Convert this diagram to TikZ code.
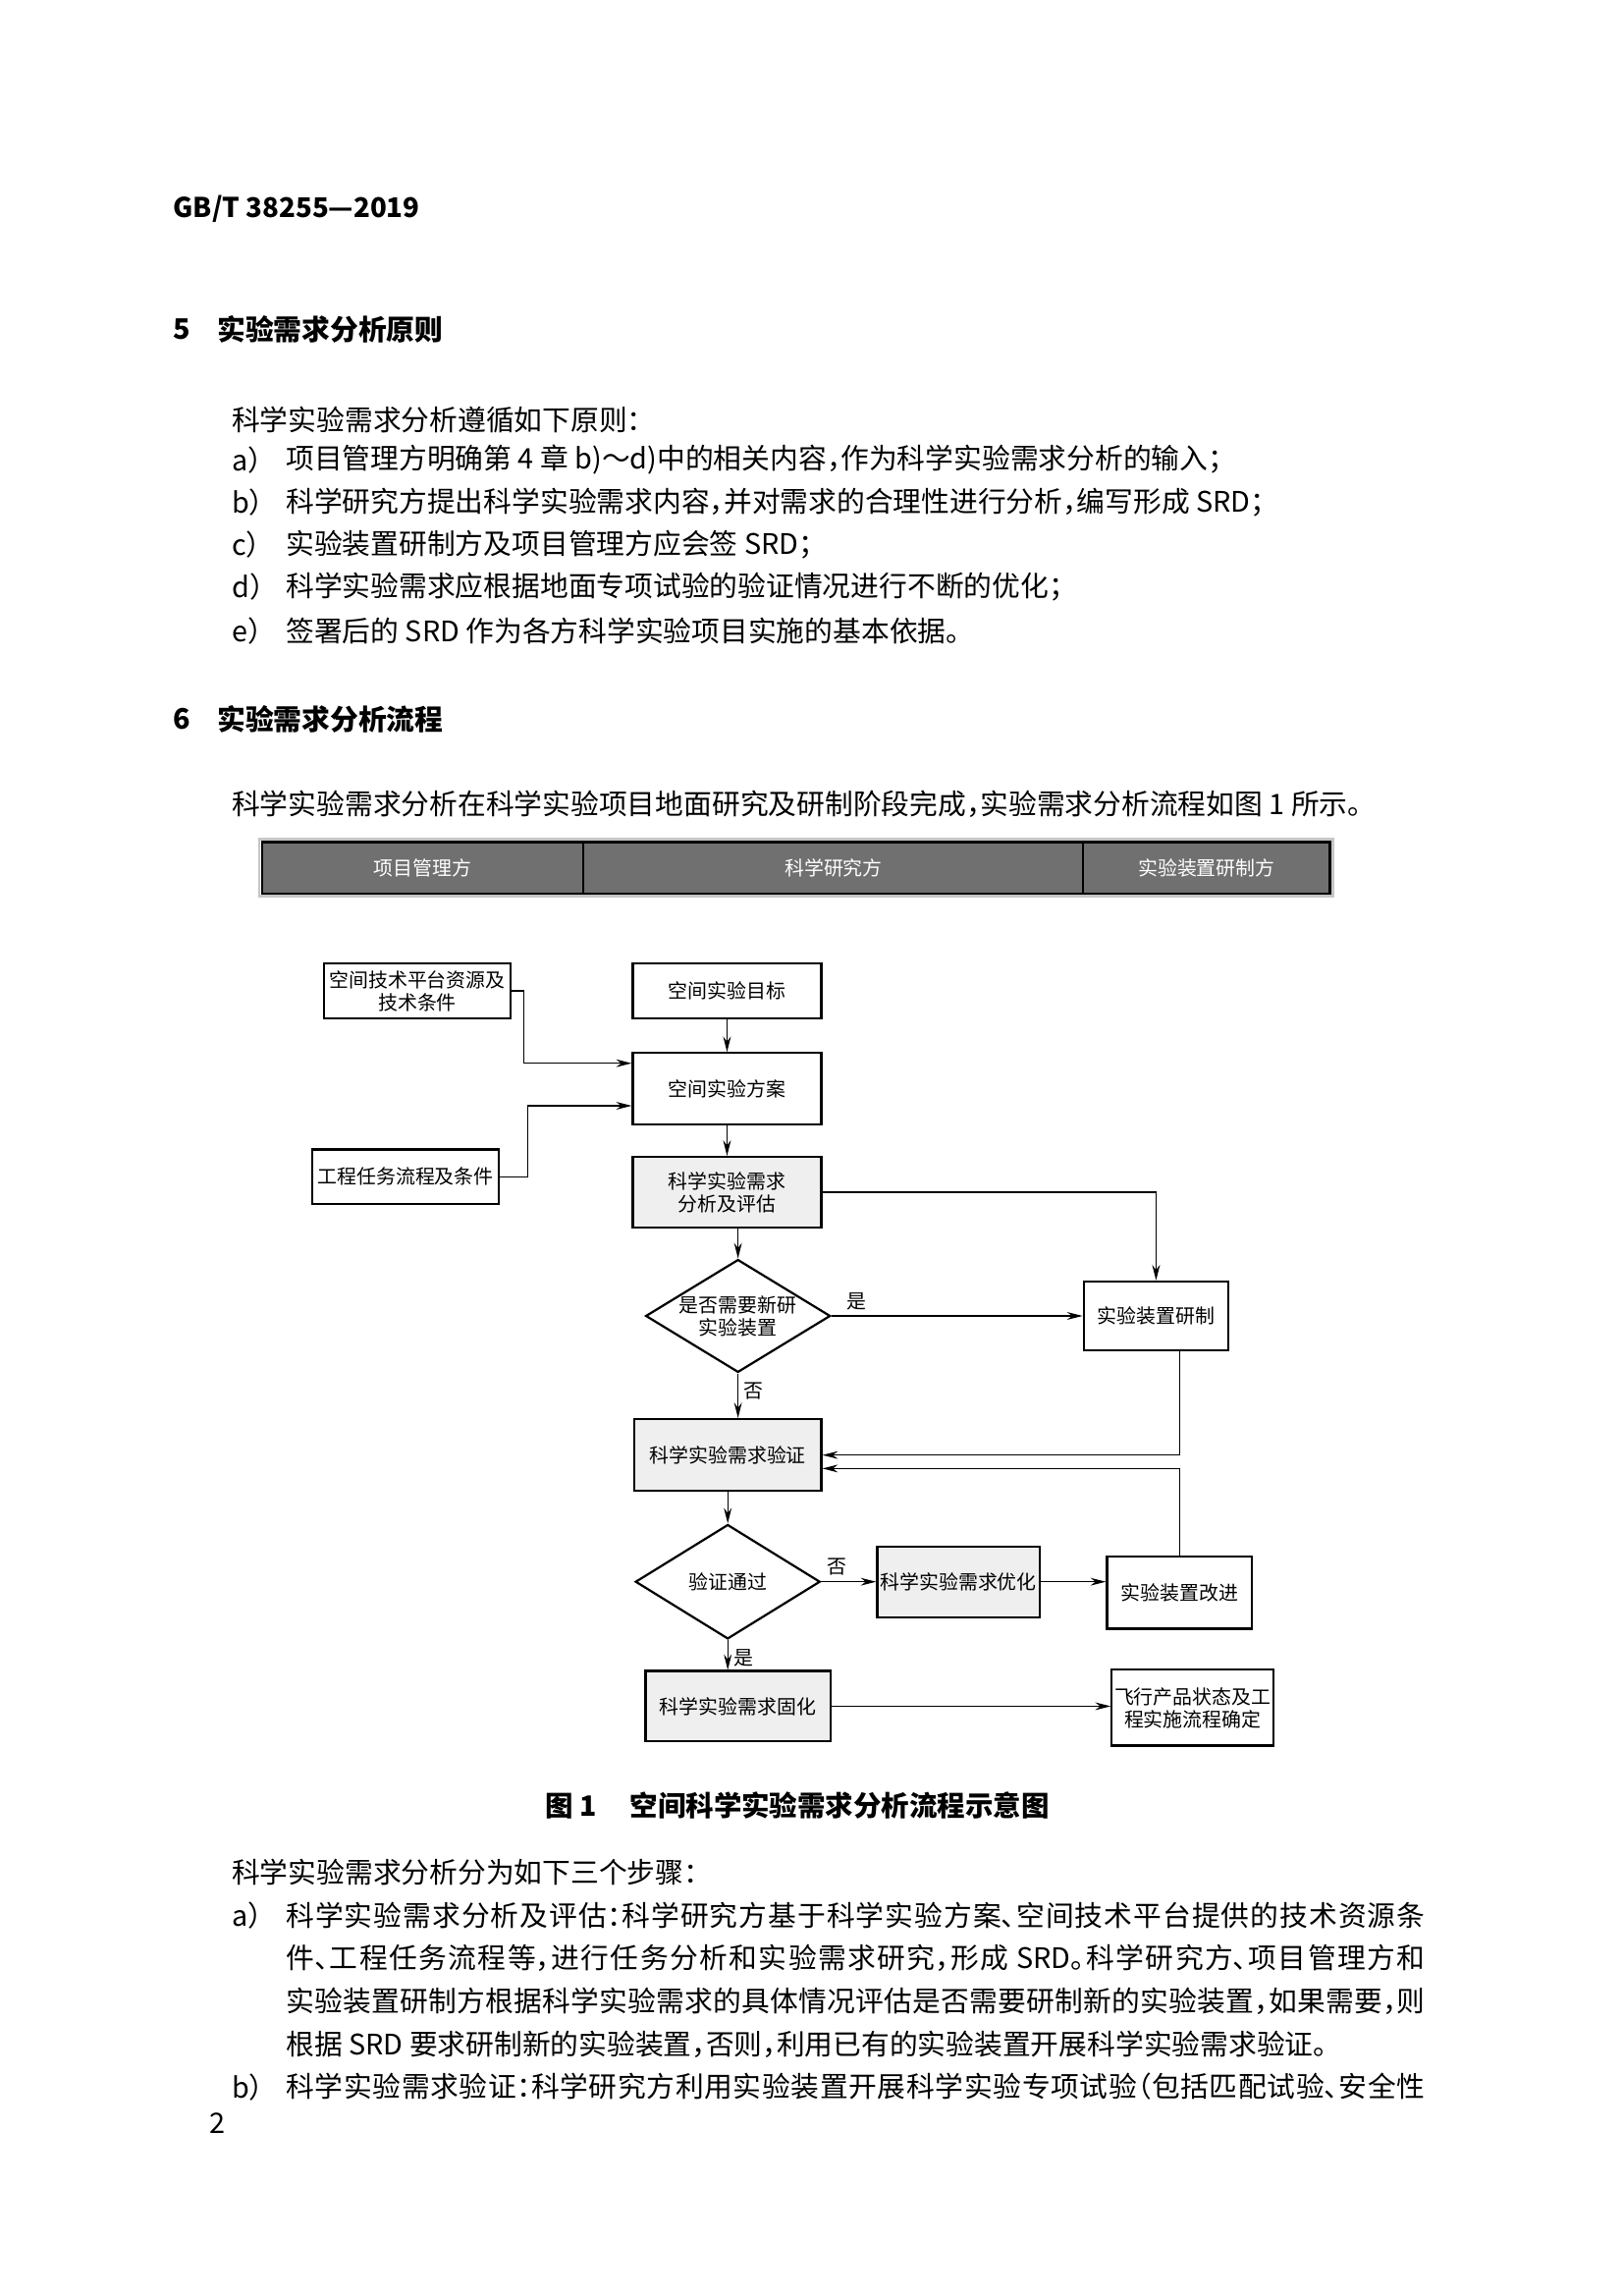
\documentclass[tikz,border=0pt]{standalone}
\usepackage{fontspec}
\setmainfont{Noto Sans CJK SC}[RawFeature=+halt]
\XeTeXlinebreaklocale "zh"
\XeTeXlinebreakskip=0pt plus 1pt
\usetikzlibrary{shapes.geometric, arrows.meta}
\definecolor{bargray}{RGB}{112,112,112}
\definecolor{boxgray}{RGB}{239,239,239}
\tikzstyle{box} = [rectangle, draw=black, line width=0.8pt, align=center, inner sep=1pt, font=\fontsize{7.2pt}{8.3pt}\selectfont]
\tikzstyle{greybox} = [box, fill=boxgray]
\tikzstyle{decision} = [diamond, aspect=1.65, draw=black, line width=0.8pt, align=center, inner sep=0pt, font=\fontsize{7.2pt}{8.3pt}\selectfont]
\tikzstyle{party} = [rectangle, draw=black, line width=0.8pt, fill=bargray, text=white, minimum height=6.65mm, font=\fontsize{7.2pt}{8.3pt}\selectfont]
\tikzstyle{arrow} = [line width=0.45pt, -{Stealth[length=2mm,width=1mm]}]
\tikzstyle{tag} = [font=\fontsize{7.2pt}{8.3pt}\selectfont, inner sep=2pt]
\tikzstyle{body} = [anchor=west, inner sep=0pt, font=\fontsize{10.4pt}{15.8pt}\selectfont]
\tikzstyle{heading} = [body, font=\fontsize{10.4pt}{15.8pt}\selectfont\bfseries]

\begin{document}
\begin{tikzpicture}[x=0.18949mm, y=-0.18949mm]
    \fill [white] (0,0) rectangle (1108.2,1567.7);
    \useasboundingbox (0,0) rectangle (1108.2,1567.7);

    % page text
    \node (code) [heading, font=\fontsize{10pt}{15.8pt}\selectfont\bfseries] at (118,143) {GB/T 38255—2019};
    \node (num5) [heading] at (118,225) {5};
    \node (sec5) [heading] at (148,225) {实验需求分析原则};
    \node (p0) [body] at (158,287) {科学实验需求分析遵循如下原则：};
    \node (ia) [body] at (158,314) {a）};
    \node (ta) [body] at (195,314) {项目管理方明确第 4 章 b)～d)中的相关内容，作为科学实验需求分析的输入；};
    \node (ib) [body] at (158,343) {b）};
    \node (tb) [body] at (195,343) {科学研究方提出科学实验需求内容，并对需求的合理性进行分析，编写形成 SRD；};
    \node (ic) [body] at (158,372) {c）};
    \node (tc) [body] at (195,372) {实验装置研制方及项目管理方应会签 SRD；};
    \node (id) [body] at (158,401) {d）};
    \node (td) [body] at (195,401) {科学实验需求应根据地面专项试验的验证情况进行不断的优化；};
    \node (ie) [body] at (158,431) {e）};
    \node (te) [body] at (195,431) {签署后的 SRD 作为各方科学实验项目实施的基本依据。};
    \node (num6) [heading] at (118,491) {6};
    \node (sec6) [heading] at (148,491) {实验需求分析流程};
    \node (p1) [body] at (158,549) {科学实验需求分析在科学实验项目地面研究及研制阶段完成，实验需求分析流程如图 1 所示。};

    % header bar
    \draw [gray!45, line width=1pt] (177,573) rectangle (910,612);
    \node (hmgr) [party, minimum width=41.6mm] at (288.75,592.5) {项目管理方};
    \node (hsci) [party, minimum width=64.7mm] at (569.25,592.5) {科学研究方};
    \node (heqp) [party, minimum width=31.9mm] at (824,592.5) {实验装置研制方};

    % flow chart
    \node (res) [box, minimum width=24.2mm, minimum height=7.05mm] at (285,676.5) {空间技术平台资源及\\技术条件};
    \node (goal) [box, minimum width=24.4mm, minimum height=7.05mm] at (496.5,676.5) {空间实验目标};
    \node (plan) [box, minimum width=24.4mm, minimum height=9.28mm] at (496.5,743.5) {空间实验方案};
    \node (task) [box, minimum width=24.2mm, minimum height=7.05mm] at (277,803.5) {工程任务流程及条件};
    \node (evalu) [greybox, minimum width=24.4mm, minimum height=9.13mm] at (496.5,814) {科学实验需求\\分析及评估};
    \node (newdev) [decision, minimum width=23.9mm, minimum height=14.6mm] at (504,898.5) {是否需要新研\\实验装置};
    \node (build) [box, minimum width=18.75mm, minimum height=8.93mm] at (789.5,898.5) {实验装置研制};
    \node (verify) [greybox, minimum width=24.2mm, minimum height=9.28mm] at (497,993.5) {科学实验需求验证};
    \node (pass) [decision, minimum width=23.9mm, minimum height=14.8mm] at (497,1080) {验证通过};
    \node (optim) [greybox, minimum width=21mm, minimum height=9.13mm] at (654.5,1080) {科学实验需求优化};
    \node (improve) [box, minimum width=18.75mm, minimum height=9.28mm] at (805.5,1087.5) {实验装置改进};
    \node (fix) [greybox, minimum width=23.9mm, minimum height=9.13mm] at (504,1165) {科学实验需求固化};
    \node (flight) [box, minimum width=20.6mm, minimum height=9.8mm] at (814.5,1166) {飞行产品状态及工\\程实施流程确定};

    \draw [arrow] (res.east) -- ++(8,0) |- ([yshift=3.32mm]plan.west);
    \draw [arrow] (task.east) -- ++(19,0) |- ([yshift=-2.18mm]plan.west);
    \draw [arrow] (goal) -- (plan);
    \draw [arrow] (plan) -- (evalu);
    \draw [arrow] (evalu.east) -| (build.north);
    \draw [arrow] (evalu.south -| newdev.north) -- (newdev.north);
    \draw [arrow] (newdev.east) -- node [tag, above, pos=0.1] {是} (newdev.east -| build.west);
    \draw [arrow] (newdev.south) -- node [tag, right, pos=0.4] {否} (newdev.south |- verify.north);
    \draw [arrow] ([xshift=3.03mm]build.south) |- (verify.east);
    \draw [arrow] (improve.north) |- ([yshift=-1.74mm]verify.east);
    \draw [arrow] (verify.south -| pass.north) -- (pass.north);
    \draw [arrow] (pass.east) -- node [tag, above, pos=0.28] {否} (pass.east -| optim.west);
    \draw [arrow] (optim.east) -- (optim.east -| improve.west);
    \draw [arrow] (pass.south) -- node [tag, right, pos=0.6] {是} (pass.south |- fix.north);
    \draw [arrow] (fix.east) -- (fix.east -| flight.west);

    % caption and following text
    \node (cap) [heading, font=\fontsize{10.3pt}{15.8pt}\selectfont\bfseries] at (372,1233) {图 1\hspace{4.3mm}空间科学实验需求分析流程示意图};
    \node (p2) [body] at (158,1278) {科学实验需求分析分为如下三个步骤：};
    \node (sa) [body] at (158,1308) {a）};
    \node (stepa) [body, anchor=north west, text width=147.4mm, align=justify] at (195,1298.3) {科学实验需求分析及评估：科学研究方基于科学实验方案、空间技术平台提供的技术资源条\linebreak 件、工程任务流程等，进行任务分析和实验需求研究，形成 SRD。科学研究方、项目管理方和\linebreak 实验装置研制方根据科学实验需求的具体情况评估是否需要研制新的实验装置，如果需要，则\linebreak 根据 SRD 要求研制新的实验装置，否则，利用已有的实验装置开展科学实验需求验证。};
    \node (sb) [body] at (158,1425) {b）};
    \node (stepb) [body, anchor=north west, text width=147.4mm, align=justify] at (195,1415.3) {科学实验需求验证：科学研究方利用实验装置开展科学实验专项试验（包括匹配试验、安全性\linebreak};
    \node (page) [body] at (143,1450) {2};
\end{tikzpicture}
\end{document}
